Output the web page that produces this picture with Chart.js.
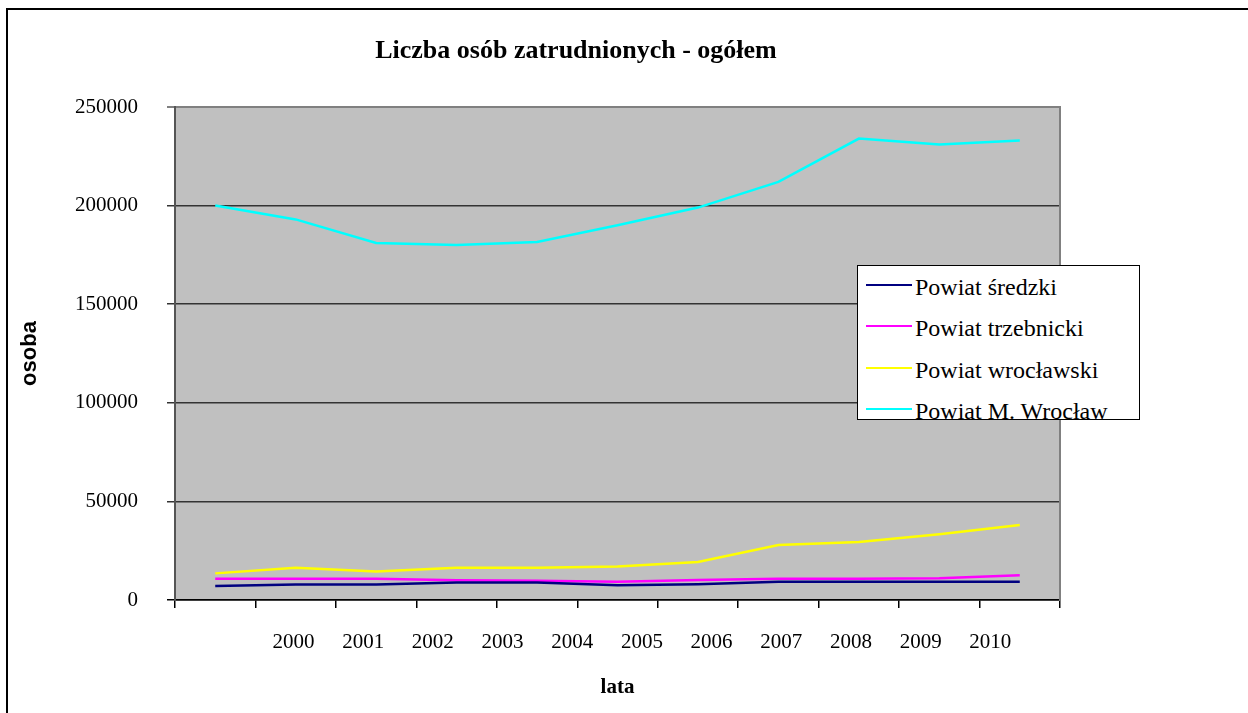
<!DOCTYPE html>
<html lang="pl">
<head>
<meta charset="utf-8">
<title>Liczba osób zatrudnionych - ogółem</title>
<script src="https://cdn.jsdelivr.net/npm/chart.js@4.4.1/dist/chart.umd.min.js"></script>
<style>
    html, body { margin: 0; padding: 0; background: #fff; }
    body { width: 1248px; height: 713px; position: relative; overflow: hidden; }
    #ramka { position: absolute; left: 6px; top: 8px; width: 1250px; height: 720px; border-left: 2px solid #000; border-top: 2px solid #000; box-sizing: border-box; }
    #wykres { position: absolute; left: 0; top: 0; }
    #legenda { position: absolute; left: 857px; top: 265px; width: 283px; height: 155px; box-sizing: border-box; border: 1px solid #000; background: #fff; overflow: hidden; font-family: 'Liberation Serif', 'Times New Roman', serif; font-size: 24px; color: #000; }
    .leg-item { display: flex; align-items: center; height: 41.5px; line-height: 24px; white-space: nowrap; }
    .leg-linia { width: 46px; height: 2px; margin-left: 8px; margin-right: 3px; position: relative; top: -2px; }
</style>
</head>
<body>
<div id="ramka"></div>
<canvas id="wykres" width="1248" height="713"></canvas>
<div id="legenda"></div>
<script>
const tytul = 'Liczba osób zatrudnionych - ogółem';
const lata = ['2000', '2001', '2002', '2003', '2004', '2005', '2006', '2007', '2008', '2009', '2010'];

const nazwySerii = ['Powiat średzki', 'Powiat trzebnicki', 'Powiat wrocławski', 'Powiat M. Wrocław'];
const koloryserii = ['#000080', '#ff00ff', '#ffff00', '#00ffff'];

const powiatSredzki = [7100, 7900, 7900, 8900, 8900, 7500, 8000, 9300, 9300, 9300, 9300];
const powiatTrzebnicki = [10800, 10800, 10800, 10000, 9700, 9300, 10100, 10800, 10800, 11000, 12500];
const powiatWroclawski = [13500, 16400, 14500, 16400, 16400, 17000, 19300, 27900, 29400, 33300, 38000];
const powiatMWroclaw = [200000, 193000, 181000, 180000, 181500, 190000, 199000, 212000, 234000, 231000, 233000];

const osY = { min: 0, max: 250000, krok: 50000 };
// w oryginale podpisy lat są przesunięte względem punktów, stąd osobna oś liniowa na podpisy
const osLat = { min: 1998.3, max: 2011.0 };

const szeryf = "'Liberation Serif', 'Times New Roman', serif";

const tloWykresu = {
    id: 'tloWykresu',
    beforeDraw(chart) {
        const { ctx, chartArea: a } = chart;
        ctx.save();
        ctx.fillStyle = '#c0c0c0';
        ctx.fillRect(a.left, a.top, a.right - a.left, a.bottom - a.top);
        ctx.restore();
    }
};

const serie = [powiatSredzki, powiatTrzebnicki, powiatWroclawski, powiatMWroclaw];

const wykres = new Chart(document.getElementById('wykres').getContext('2d'), {
    type: 'line',
    data: {
        labels: lata,
        datasets: serie.map((dane, i) => ({
            label: nazwySerii[i],
            data: dane,
            xAxisID: 'x',
            yAxisID: 'y',
            borderColor: koloryserii[i],
            backgroundColor: koloryserii[i],
            borderWidth: 2.5,
            pointRadius: 0,
            tension: 0,
            fill: false
        }))
    },
    options: {
        responsive: false,
        animation: false,
        layout: { padding: { left: 0, right: 96, top: 0, bottom: 0 } },
        plugins: {
            legend: { display: false },
            tooltip: { enabled: false },
            title: {
                display: true,
                text: tytul,
                color: '#000',
                font: { family: szeryf, size: 26, weight: 'bold' },
                padding: { top: 36, bottom: 39.8 }
            }
        },
        scales: {
            x: {
                type: 'category',
                position: 'bottom',
                offset: true,
                grid: { offset: true, drawOnChartArea: false, drawTicks: true, tickLength: 8, color: '#000', lineWidth: 1.5 },
                border: { color: '#000', width: 1.5 },
                ticks: { display: false },
                afterFit(s) { s.height = 8; }
            },
            xLata: {
                type: 'linear',
                position: 'bottom',
                min: osLat.min,
                max: osLat.max,
                grid: { display: false, drawTicks: false },
                border: { display: false },
                ticks: {
                    stepSize: 1,
                    includeBounds: false,
                    autoSkip: false,
                    maxRotation: 0,
                    padding: 22,
                    color: '#000',
                    font: { family: szeryf, size: 21 },
                    callback: v => lata.includes(String(v)) ? String(v) : ''
                },
                title: {
                    display: true,
                    text: 'lata',
                    color: '#000',
                    font: { family: szeryf, size: 21, weight: 'bold' },
                    padding: { top: 0, bottom: 13 }
                },
                afterFit(s) { s.height = 105; }
            },
            y: {
                min: osY.min,
                max: osY.max,
                ticks: {
                    stepSize: osY.krok,
                    padding: 29,
                    color: '#000',
                    font: { family: szeryf, size: 21 },
                    callback: v => String(v)
                },
                grid: {
                    color: c => c.tick && c.tick.value === osY.max ? '#808080' : (c.tick && c.tick.value === 0 ? '#000' : '#333'),
                    lineWidth: c => c.tick && c.tick.value === osY.max ? 2 : 1.5,
                    tickLength: 8
                },
                border: { color: '#555', width: 2 },
                title: {
                    display: true,
                    text: 'osoba',
                    color: '#000',
                    font: { family: "'Liberation Sans', Arial, sans-serif", size: 22, weight: 'bold' },
                    padding: { top: 17, bottom: 0 }
                },
                afterFit(s) { s.width = 175; }
            },
            // prawa krawędź obszaru wykresu (szara), bez podpisów
            yPrawa: {
                position: 'right',
                min: osY.min,
                max: osY.max,
                ticks: { display: false },
                grid: { display: false, drawTicks: false },
                border: { color: '#808080', width: 2 },
                afterFit(s) { s.width = 92; }
            }
        }
    },
    plugins: [tloWykresu]
});

const legendaEl = document.getElementById('legenda');
wykres.data.datasets.forEach(ds => {
    const item = document.createElement('div');
    item.className = 'leg-item';
    const linia = document.createElement('span');
    linia.className = 'leg-linia';
    linia.style.background = ds.borderColor;
    const tekst = document.createElement('span');
    tekst.innerText = ds.label;
    item.appendChild(linia);
    item.appendChild(tekst);
    legendaEl.appendChild(item);
});
</script>
</body>
</html>
